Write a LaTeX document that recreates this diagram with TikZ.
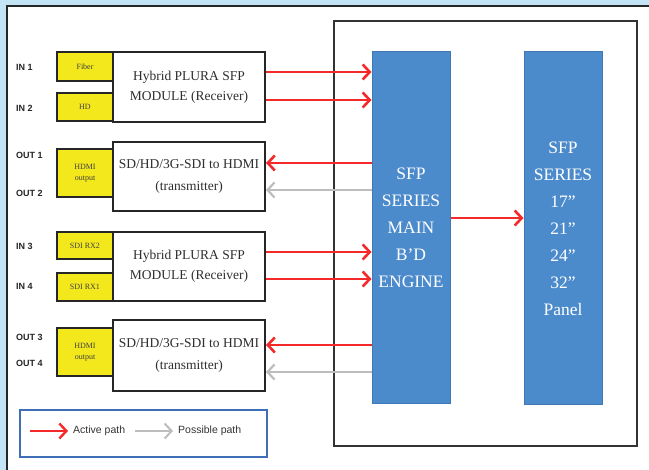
\documentclass[tikz,border=0pt]{standalone}
\usepackage{fontspec}
\setmainfont{Liberation Serif}
\setsansfont{Liberation Sans}
\usetikzlibrary{arrows.meta}
\definecolor{bgblue}{HTML}{C2E4F5}
\definecolor{engblue}{HTML}{4C8BCB}
\definecolor{engedge}{HTML}{3F78B5}
\definecolor{yel}{HTML}{F2E81C}
\definecolor{actred}{HTML}{F42A2A}
\definecolor{posgray}{HTML}{BDBDBD}
\definecolor{legblue}{HTML}{3F6FB8}
\definecolor{txt}{HTML}{2E2E2E}
\begin{document}
\begin{tikzpicture}[x=1pt,y=-1pt,
  module/.style={draw=black!85, line width=2pt, fill=white, align=center, inner sep=0pt,
    minimum width=152pt, text=txt, font=\fontsize{13.5}{20}\selectfont},
  ybox/.style={draw=black!85, line width=2pt, fill=yel, align=center, inner sep=0pt,
    minimum width=56pt, text=black!75, font=\fontsize{8}{9}\selectfont},
  portlbl/.style={anchor=west, inner sep=0pt, font=\sffamily\bfseries\fontsize{9}{10}\selectfont, text=black!85},
  bluebox/.style={draw=engedge, line width=1pt, fill=engblue, align=center, inner sep=0pt,
    minimum width=78pt, text=white, font=\fontsize{17.5}{27}\selectfont},
  actpath/.style={draw=actred, line width=2.6pt, -{Straight Barb[length=7pt,width=15pt]}},
  posspath/.style={draw=posgray, line width=2.2pt, -{Straight Barb[length=7pt,width=15pt]}},
  legtext/.style={anchor=west, inner sep=0pt, font=\sffamily\fontsize{10.5}{12}\selectfont, text=black!80}
]
\useasboundingbox (0,0) rectangle (649,470);
\clip (0,0) rectangle (649,470);
\fill[bgblue] (0,0) rectangle (649,470);
\draw[line width=2.2pt, draw=black!85, fill=white] (7,6) rectangle (662,482);

% right big frame
\node[draw=black!80, line width=2pt, minimum width=303pt, minimum height=425pt, inner sep=0pt] (frame) at (485.5,233.5) {};
\node[bluebox, minimum height=352pt] (eng) at (411,228) {SFP\\SERIES\\MAIN\\B'D\\ENGINE};
\node[bluebox, minimum height=353pt] (pan) at (563,228.5) {SFP\\SERIES\\17''\\21''\\24''\\32''\\Panel};

% module 1
\node[ybox, minimum height=29pt] (y1) at (85,66.5) {Fiber};
\node[ybox, minimum height=28pt] (y2) at (85,107) {HD};
\node[module, minimum height=70pt] (m1) at (189,87) {Hybrid PLURA SFP\\MODULE (Receiver)};
% module 2
\node[ybox, minimum height=48pt, font=\fontsize{8}{11}\selectfont] (y3) at (85,173) {HDMI\\output};
\node[module, minimum height=69pt, font=\fontsize{13.5}{22}\selectfont] (m2) at (189,176.5) {SD/HD/3G-SDI to HDMI\\(transmitter)};
% module 3
\node[ybox, minimum height=27pt] (y4) at (85,245.5) {SDI RX2};
\node[ybox, minimum height=28pt] (y5) at (85,287) {SDI RX1};
\node[module, minimum height=69pt] (m3) at (189,266.5) {Hybrid PLURA SFP\\MODULE (Receiver)};
% module 4
\node[ybox, minimum height=48pt, font=\fontsize{8}{11}\selectfont] (y6) at (85,352) {HDMI\\output};
\node[module, minimum height=71pt, font=\fontsize{13.5}{22}\selectfont] (m4) at (189,355.5) {SD/HD/3G-SDI to HDMI\\(transmitter)};

% port labels
\node[portlbl] (in1) at (16,67) {IN 1};
\node[portlbl] (in2) at (16,108) {IN 2};
\node[portlbl] (out1) at (16,155) {OUT 1};
\node[portlbl] (out2) at (16,193) {OUT 2};
\node[portlbl] (in3) at (16,246) {IN 3};
\node[portlbl] (in4) at (16,286) {IN 4};
\node[portlbl] (out3) at (16,337) {OUT 3};
\node[portlbl] (out4) at (16,363) {OUT 4};

% connectors (yshift is in canvas direction: positive = up)
\path ([yshift=15pt]m1.east) coordinate (a1) ([yshift=-13pt]m1.east) coordinate (a2);
\path ([yshift=13.5pt]m2.east) coordinate (a3) ([yshift=-13.5pt]m2.east) coordinate (a4);
\path ([yshift=14.5pt]m3.east) coordinate (a5) ([yshift=-12.5pt]m3.east) coordinate (a6);
\path ([yshift=10.5pt]m4.east) coordinate (a7) ([yshift=-16.5pt]m4.east) coordinate (a8);
\draw[actpath] (a1) -- (eng.west |- a1);
\draw[actpath] (a2) -- (eng.west |- a2);
\draw[actpath] (eng.west |- a3) -- (a3);
\draw[posspath] (eng.west |- a4) -- (a4);
\draw[actpath] (a5) -- (eng.west |- a5);
\draw[actpath] (a6) -- (eng.west |- a6);
\draw[actpath] (eng.west |- a7) -- (a7);
\draw[posspath] (eng.west |- a8) -- (a8);
\path ([yshift=10pt]eng.east) coordinate (c1);
\draw[actpath] (c1) -- (pan.west |- c1);

% legend
\node[draw=legblue, line width=1.5pt, minimum width=247pt, minimum height=47pt, inner sep=0pt] (leg) at (143.5,433.5) {};
\coordinate (l1) at (30,431);
\coordinate (l2) at (68,431);
\coordinate (l3) at (135,431);
\coordinate (l4) at (173,431);
\draw[actpath, line width=2.4pt] (l1) -- (l2);
\node[legtext] (lt1) at (73,431) {Active path};
\draw[posspath, line width=2pt] (l3) -- (l4);
\node[legtext] (lt2) at (178,431) {Possible path};
\end{tikzpicture}
\end{document}
